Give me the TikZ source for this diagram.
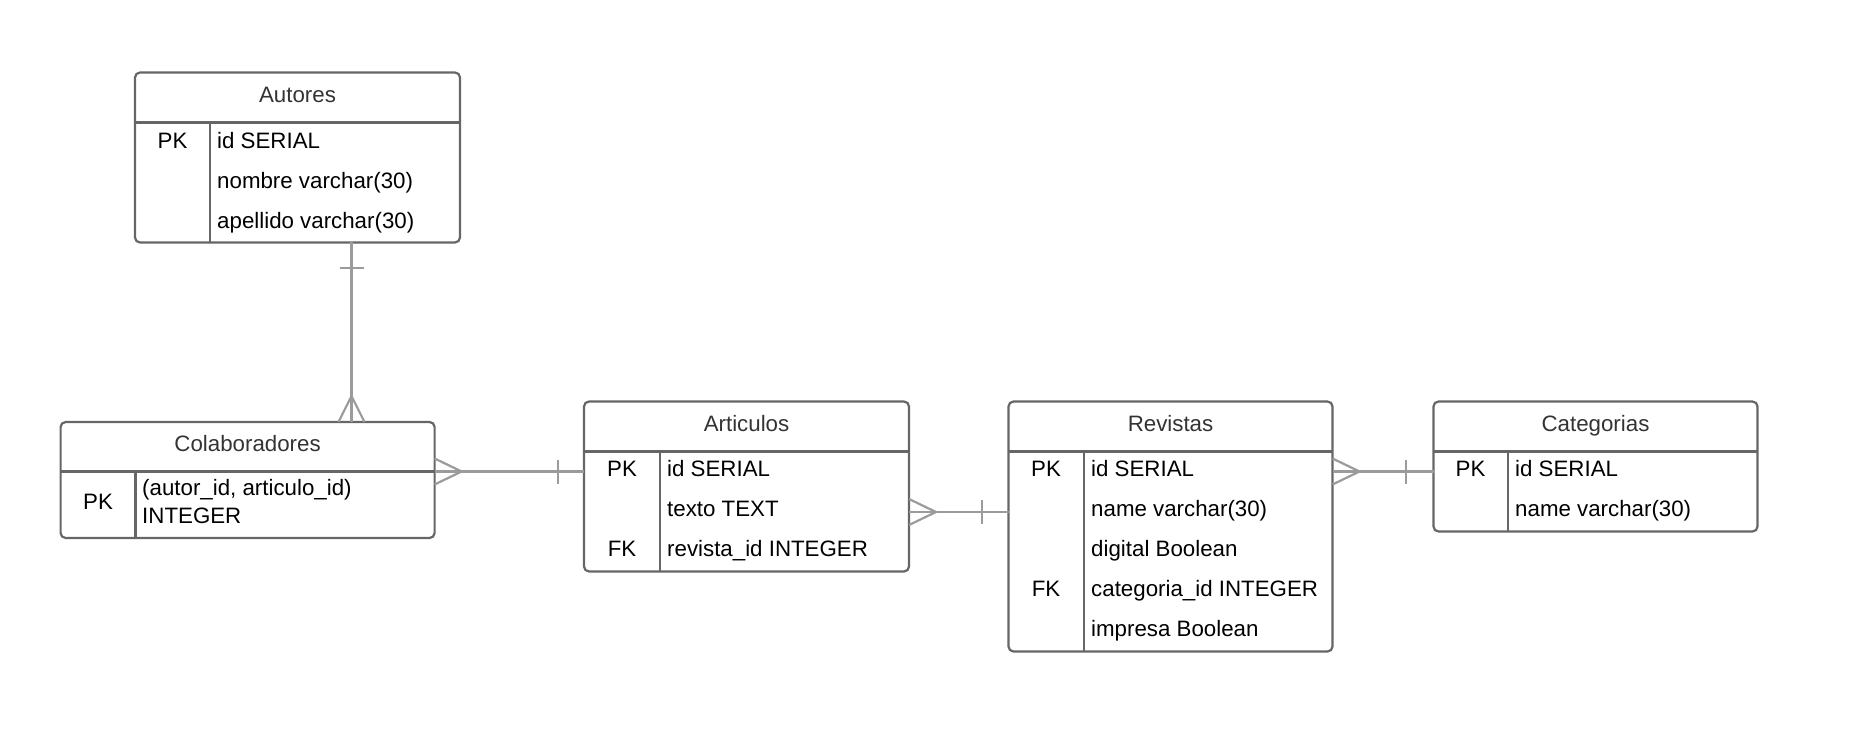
\documentclass[tikz,border=0pt]{standalone}
\usepackage{fontspec}
\setmainfont{Liberation Sans}
\definecolor{boxc}{RGB}{102,102,102}
\definecolor{connc}{RGB}{155,155,155}
\definecolor{titlec}{RGB}{51,51,51}
\begin{document}
\begin{tikzpicture}[x=1pt,y=-1pt,
 tbl/.style={draw=boxc, line width=2.2pt, rounded corners=5pt, anchor=north west, inner sep=0pt, outer sep=0pt},
 sep/.style={draw=boxc, line width=2.2pt},
 conn/.style={draw=connc, line width=2.2pt},
 ttl/.style={font=\fontsize{22.3}{26}\selectfont, text=titlec, anchor=base, inner sep=0pt},
 fld/.style={font=\fontsize{22.3}{26}\selectfont, text=black, anchor=base west, inner sep=0pt},
 key/.style={font=\fontsize{22.3}{26}\selectfont, text=black, anchor=base, inner sep=0pt}]
\useasboundingbox (0,0) rectangle (1862,751);

% ---------- Autores
\node[tbl, minimum width=325pt, minimum height=170pt] (aut) at (135,72.5) {};
\draw[sep] (aut.west |- 0,122.5) -- (aut.east |- 0,122.5);
\draw[sep] (210,122.5) -- (aut.south -| 210,0);
\node[ttl] (autT) at (297.5,103) {Autores};
\node[key] (autK1) at (172.5,148.5) {PK};
\node[fld] (autF1) at (217,148.5) {id SERIAL};
\node[fld] (autF2) at (217,188.5) {nombre varchar(30)};
\node[fld] (autF3) at (217,228.5) {apellido varchar(30)};

% ---------- Colaboradores
\node[tbl, minimum width=374pt, minimum height=116pt] (col) at (60.6,422) {};
\draw[sep] (col.west |- 0,471.5) -- (col.east |- 0,471.5);
\draw[sep] (135.4,471.5) -- (col.south -| 135.4,0);
\node[ttl] (colT) at (247.6,451.5) {Colaboradores};
\node[key] (colK1) at (98,509.5) {PK};
\node[fld] (colF1) at (142,495.5) {(autor\_id, articulo\_id)};
\node[fld] (colF2) at (142,523.5) {INTEGER};

% ---------- Articulos
\node[tbl, minimum width=325pt, minimum height=170pt] (art) at (584,401.5) {};
\draw[sep] (art.west |- 0,451.5) -- (art.east |- 0,451.5);
\draw[sep] (660,451.5) -- (art.south -| 660,0);
\node[ttl] (artT) at (746.5,431.5) {Articulos};
\node[key] (artK1) at (622,476.5) {PK};
\node[key] (artK3) at (622,556.5) {FK};
\node[fld] (artF1) at (667,476.5) {id SERIAL};
\node[fld] (artF2) at (667,516.5) {texto TEXT};
\node[fld] (artF3) at (667,556.5) {revista\_id INTEGER};

% ---------- Revistas
\node[tbl, minimum width=324pt, minimum height=250pt] (rev) at (1008.5,401.5) {};
\draw[sep] (rev.west |- 0,451.5) -- (rev.east |- 0,451.5);
\draw[sep] (1084,451.5) -- (rev.south -| 1084,0);
\node[ttl] (revT) at (1170.5,431.5) {Revistas};
\node[key] (revK1) at (1046,476.5) {PK};
\node[key] (revK4) at (1046,596.5) {FK};
\node[fld] (revF1) at (1091,476.5) {id SERIAL};
\node[fld] (revF2) at (1091,516.5) {name varchar(30)};
\node[fld] (revF3) at (1091,556.5) {digital Boolean};
\node[fld] (revF4) at (1091,596.5) {categoria\_id INTEGER};
\node[fld] (revF5) at (1091,636.5) {impresa Boolean};

% ---------- Categorias
\node[tbl, minimum width=324pt, minimum height=130pt] (cat) at (1433.5,401.5) {};
\draw[sep] (cat.west |- 0,451.5) -- (cat.east |- 0,451.5);
\draw[sep] (1508,451.5) -- (cat.south -| 1508,0);
\node[ttl] (catT) at (1595.5,431.5) {Categorias};
\node[key] (catK1) at (1470.5,476.5) {PK};
\node[fld] (catF1) at (1515,476.5) {id SERIAL};
\node[fld] (catF2) at (1515,516.5) {name varchar(30)};

% ---------- connectors
% Autores -- Colaboradores
\coordinate (xa) at (351.5,0);
\draw[conn] (aut.south -| xa) -- (col.north -| xa);
\draw[conn] ([xshift=-12pt]xa |- 0,268) -- ([xshift=12pt]xa |- 0,268);
\draw[conn] ([xshift=-13pt]col.north -| xa) -- ([yshift=26pt]col.north -| xa) -- ([xshift=13pt]col.north -| xa);

% Colaboradores -- Articulos
\coordinate (yb) at (0,471.5);
\coordinate (cb) at (col.east |- yb);
\draw[conn] (cb) -- (art.west |- yb);
\draw[conn] ([yshift=13pt]cb) -- ([xshift=27pt]cb) -- ([yshift=-13pt]cb);
\draw[conn] (558,459.5) -- (558,483.5);

% Articulos -- Revistas
\coordinate (yc) at (0,512);
\coordinate (cc) at (art.east |- yc);
\draw[conn] (cc) -- (rev.west |- yc);
\draw[conn] ([yshift=13pt]cc) -- ([xshift=27pt]cc) -- ([yshift=-13pt]cc);
\draw[conn] (982,500) -- (982,524);

% Revistas -- Categorias
\coordinate (yd) at (0,471.5);
\coordinate (cd) at (rev.east |- yd);
\draw[conn] (cd) -- (cat.west |- yd);
\draw[conn] ([yshift=13pt]cd) -- ([xshift=27pt]cd) -- ([yshift=-13pt]cd);
\draw[conn] (1406,459.5) -- (1406,483.5);
\end{tikzpicture}
\end{document}
